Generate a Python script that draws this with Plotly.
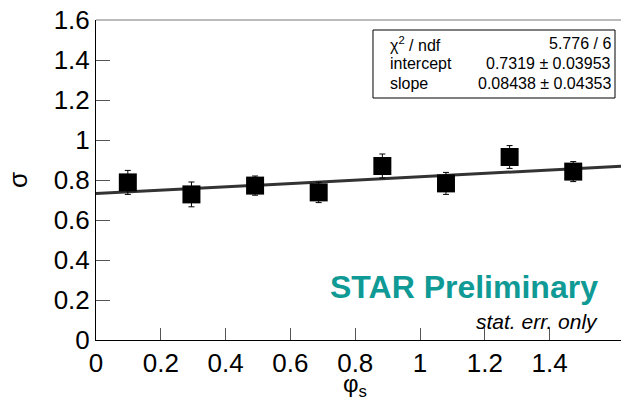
import plotly.graph_objects as go

# Data
phi_s = [0.0982, 0.2945, 0.4909, 0.6872, 0.8836, 1.0799, 1.2763, 1.4726]
sigma = [0.788, 0.728, 0.772, 0.738, 0.870, 0.783, 0.915, 0.842]
sigma_err = [0.060, 0.062, 0.048, 0.051, 0.060, 0.055, 0.057, 0.050]

fit_intercept = 0.7319
fit_slope = 0.08438
fit_x = [0.0, 1.62]
fit_y = [fit_intercept + fit_slope * x for x in fit_x]

stats_labels = ["χ<sup>2</sup> / ndf", "intercept", "slope"]
stats_values = ["5.776 / 6", "0.7319 ± 0.03953", "0.08438 ± 0.04353"]

x_ticks = [0, 0.2, 0.4, 0.6, 0.8, 1, 1.2, 1.4]
y_ticks = [0, 0.2, 0.4, 0.6, 0.8, 1, 1.2, 1.4, 1.6]

FONT = "Liberation Sans"

fig = go.Figure()
fig.add_trace(go.Scatter(x=fit_x, y=fit_y, mode="lines",
                         line=dict(color="#333333", width=3), hoverinfo="skip"))
fig.add_trace(go.Scatter(x=phi_s, y=sigma, mode="markers",
                         marker=dict(symbol="square", size=18, color="black"),
                         error_y=dict(type="data", array=sigma_err, color="black",
                                      thickness=1, width=3)))

fig.update_layout(
    width=621, height=399,
    margin=dict(l=96, r=0, t=20, b=59),
    paper_bgcolor="white", plot_bgcolor="white",
    showlegend=False,
    font=dict(family=FONT, color="black"),
    xaxis=dict(range=[0, 1.62], tickvals=x_ticks, ticktext=[f"{v:g}" for v in x_ticks],
               ticks="inside", ticklen=12, tickcolor="#555555", tickwidth=1,
               showline=True, linecolor="black", linewidth=1,
               showgrid=False, zeroline=False,
               tickfont=dict(size=26, family=FONT, color="black")),
    yaxis=dict(range=[0, 1.6], tickvals=y_ticks, ticktext=[f"{v:g}" for v in y_ticks],
               ticks="inside", ticklen=14, tickcolor="#555555", tickwidth=1,
               showline=True, linecolor="black", linewidth=1,
               showgrid=False, zeroline=False,
               tickfont=dict(size=26, family=FONT, color="black")),
)

# top frame line
fig.add_shape(type="line", xref="paper", yref="paper", x0=0, x1=1, y0=1, y1=1,
              line=dict(color="#777777", width=1))

# stats box
fig.add_shape(type="rect", xref="paper", yref="paper",
              x0=0.5276, x1=0.9886, y0=0.75625, y1=0.96875,
              line=dict(color="black", width=1), fillcolor="white")
rows_y = [0.925, 0.8625, 0.80]
for lab, val, yy in zip(stats_labels, stats_values, rows_y):
    fig.add_annotation(xref="paper", yref="paper", x=0.5562, y=yy, text=lab,
                       showarrow=False, xanchor="left", yanchor="middle",
                       font=dict(size=16, family=FONT, color="black"))
    fig.add_annotation(xref="paper", yref="paper", x=0.985, y=yy, text=val,
                       showarrow=False, xanchor="right", yanchor="middle",
                       font=dict(size=16, family=FONT, color="black"))

fig.add_annotation(xref="paper", yref="paper", x=0.96, y=0.1656,
                   text="<b>STAR Preliminary</b>", showarrow=False,
                   xanchor="right", yanchor="middle",
                   font=dict(size=32, family=FONT, color="#0f9a96"))
fig.add_annotation(xref="paper", yref="paper", x=0.96, y=0.057,
                   text="<i>stat. err. only</i>", showarrow=False,
                   xanchor="right", yanchor="middle",
                   font=dict(size=21, family=FONT, color="black"))

# axis titles
fig.add_annotation(xref="paper", yref="paper", x=-0.1486, y=0.5, text="σ",
                   showarrow=False, textangle=-90, xanchor="center", yanchor="middle",
                   font=dict(size=26, family=FONT, color="black"))
fig.add_annotation(xref="paper", yref="paper", x=0.4933, y=-0.088,
                   text="φ<sub>s</sub>", showarrow=False,
                   xanchor="center", yanchor="top",
                   font=dict(size=24, family=FONT, color="black"))

fig.write_html("out.html")
